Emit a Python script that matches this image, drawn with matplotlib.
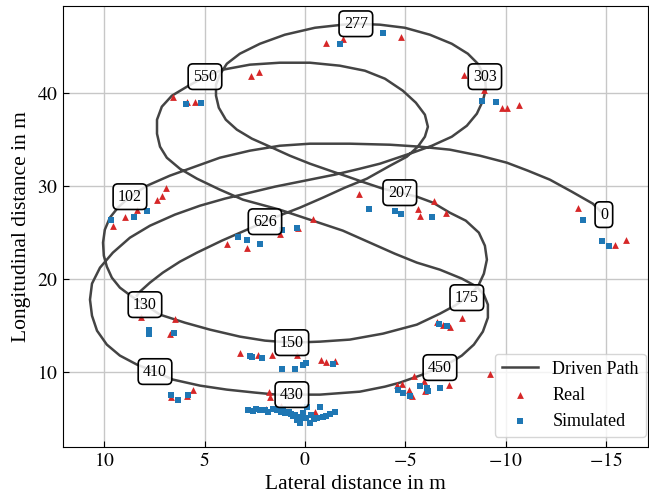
import matplotlib
matplotlib.use("Agg")
import matplotlib.pyplot as plt
from matplotlib.ticker import StrMethodFormatter

plt.rcParams["font.family"] = ["Liberation Serif", "DejaVu Serif"]
plt.rcParams["mathtext.fontset"] = "stix"

# driven path (lateral, longitudinal) in m
path_x = [
    -14.90, -14.35, -13.30, -12.21, -11.11, -10.06, -8.72, -7.22, -5.73, -4.24,
    -2.24, -0.25, 1.25, 2.74, 4.24, 5.48, 6.73, 7.87, 8.72,
    9.32, 9.72, 9.97, 10.06, 10.02, 9.87, 9.62, 9.22, 8.62, 7.97,
    7.22, 5.98, 4.73, 3.24, 1.99, 0.65,
    -0.75, -2.24, -3.89, -5.58, -6.73, -7.47, -8.07,
    -8.62, -8.92, -9.07, -8.97, -8.67, -8.02, -7.22, -6.38, -5.58, -4.73,
    -3.89, -2.99, -2.14, -1.25, -0.25, 0.75, 1.74, 2.64, 3.39, 3.94,
    4.29, 4.43, 4.43, 4.24, 3.89, 3.24, 2.24, 1.00, -0.50, -1.89, -2.54,
    -3.74, -4.98, -6.23, -7.32, -8.12, -8.62, -8.97,
    -9.02, -8.87, -8.57, -8.07, -7.32, -6.33, -5.38, -4.48, -3.74, -2.74,
    -1.49, 0.00, 1.49, 2.74, 3.99, 5.23, 6.48, 7.72, 8.72, 9.57,
    10.21, 10.61, 10.71, 10.61, 10.36, 9.87, 9.22, 8.37, 7.47,
    6.58, 5.23, 3.89, 2.49, 1.40, 0.65,
    -0.75, -2.74, -3.99, -4.73, -5.73, -6.73,
    -7.32, -7.82, -8.42, -8.87, -9.12, -9.12, -8.92, -8.57, -7.82, -6.73,
    -5.58, -4.48, -3.24, -1.89, -0.25, 1.25, 3.09, 4.24, 5.38, 6.23,
    6.88, 7.22, 7.37, 7.37, 7.13, 6.63, 5.88, 4.98,
    4.09, 2.74, 1.25, -0.25, -1.74, -2.99, -3.99, -4.88, -5.53, -5.98,
    -6.13, -5.98, -5.63, -5.08, -4.24, -3.09, -1.99, -0.90, 0.25, 1.15, 1.99,
    2.89, 4.14, 5.38, 6.23, 7.08, 7.72, 8.22, 8.37,
]
path_y = [
    26.96, 28.14, 29.43, 30.72, 31.69, 32.55, 33.30, 33.95, 34.27, 34.48,
    34.59, 34.59, 34.37, 33.84, 33.08, 32.12, 31.15, 30.07, 28.89,
    27.71, 26.63, 25.34, 23.95, 22.55, 21.37, 20.18, 19.11, 18.14, 17.28,
    16.20, 15.34, 14.59, 13.84, 13.41, 13.19,
    13.30, 13.52, 14.16, 15.13, 16.31, 17.17, 18.03,
    19.21, 20.61, 22.12, 23.62, 25.02, 26.31, 27.17, 28.25, 28.89, 29.32,
    29.75, 30.40, 31.04, 31.69, 32.44, 33.30, 34.27, 35.13, 36.10, 37.17,
    38.46, 39.75, 40.94, 42.01, 43.19, 44.27, 45.34, 46.31, 47.06, 47.39, 47.49,
    47.39, 47.06, 46.31, 45.34, 44.27, 43.19, 41.80,
    40.50, 39.21, 37.82, 36.52, 35.34, 34.37, 33.63, 32.98, 32.44, 31.90,
    31.26, 30.61, 29.97, 29.32, 28.68, 27.92, 26.96, 25.77, 24.48, 22.87,
    21.26, 19.54, 17.82, 16.09, 14.48, 12.98, 11.80, 10.83, 10.08,
    9.22, 8.57, 8.14, 7.82, 7.60, 7.60,
    7.60, 7.92, 8.46, 8.89, 9.65, 10.51,
    11.15, 11.80, 12.98, 14.38, 15.88, 17.28, 18.35, 19.21, 20.08, 21.04,
    21.80, 22.76, 23.95, 25.24, 26.42, 27.49, 28.57, 29.65, 30.83, 31.90,
    33.08, 34.27, 35.66, 37.17, 38.57, 39.75, 40.72, 41.80,
    42.55, 43.09, 43.30, 43.30, 42.98, 42.44, 41.58, 40.29, 39.00, 37.71,
    36.41, 35.34, 34.27, 33.19, 32.22, 30.83, 29.86, 28.79, 27.71, 26.96, 26.20,
    25.34, 24.16, 22.87, 21.90, 20.72, 19.65, 18.68, 18.25,
]

# sample indices written along the path
label_text = ["0", "102", "130", "150", "175", "207", "277", "303",
              "410", "430", "450", "550", "626"]
label_x = [-14.90, 8.72, 7.97, 0.65, -8.07, -4.73, -2.54, -8.97,
           7.47, 0.65, -6.73, 4.98, 1.99]
label_y = [26.96, 28.89, 17.28, 13.19, 18.03, 29.32, 47.49, 41.80,
           10.08, 7.60, 10.51, 41.80, 26.20]

# real detections
real_x = [
    -1.05, -1.88, -4.78, 2.69, 2.28, 6.59, 5.88, 5.46, -7.92, -8.93,
    -9.80, -10.05, -10.68, 6.93, 7.11, 7.36, 8.36, 8.96, 9.55, 3.89,
    2.87, 1.25, 0.35, -0.41, -2.69, -5.62, -5.76, -6.44, -7.05, -13.62,
    -15.45, -15.99, 8.19, 6.48, 6.73, 3.24, 2.33, 1.66, 0.41, -0.80,
    -1.03, -1.49, -7.81, -6.56, -6.86, -7.22, 5.57, 5.86, 6.69, 1.78,
    1.72, 1.93, 1.20, -0.50, -5.45, -5.94, -7.19, -4.57, -4.82, -5.20,
    -5.32, -5.98, -9.22,
]
real_y = [
    45.42, 45.85, 46.06, 41.83, 42.28, 39.57, 39.11, 39.11, 42.01, 40.34,
    38.43, 38.48, 38.75, 29.78, 28.92, 28.57, 27.49, 26.67, 25.77, 23.81,
    23.41, 24.86, 25.53, 26.47, 29.22, 27.57, 26.77, 28.39, 27.10, 27.63,
    23.73, 24.19, 15.96, 15.74, 14.16, 12.09, 11.90, 11.90, 11.90, 11.37,
    11.08, 11.18, 15.88, 15.38, 15.13, 14.86, 8.14, 7.42, 7.31, 7.92,
    7.33, 6.10, 6.34, 5.70, 9.57, 9.03, 8.68, 8.68, 8.78, 8.14,
    7.49, 8.03, 9.86,
]

# simulated detections
sim_x = [
    -1.74, -3.90, 5.93, 5.18, -8.85, -9.52, 7.88, 8.50, 9.68, 3.35,
    2.90, 2.22, 1.16, 0.40, -3.20, -4.48, -4.81, -6.34, -13.84, -14.83,
    -15.16, 7.76, 7.76, 6.53, 2.74, 2.66, 2.16, 1.16, 0.50, 0.11,
    -0.08, -1.38, -6.69, -7.09, 6.69, 6.31, 5.81, -5.76, -6.09, -6.14,
    -6.73, -4.65, -4.90, -5.23, 2.84, 2.59, 2.24, 1.99, 1.84, 1.59,
    1.40, 1.20, 1.00, 0.80, 0.70, 0.60, 0.50, 0.40, 0.25, 0.25,
    0.10, -0.05, -0.10, -0.25, -0.30, -0.45, -0.60, -0.75, -0.90, -1.05,
    -1.25, -1.49, 2.44, 1.10,
]
sim_y = [
    45.34, 46.49, 38.86, 38.97, 39.14, 39.03, 27.33, 26.72, 26.34, 24.54,
    24.19, 23.78, 25.34, 25.53, 27.60, 27.31, 27.06, 26.71, 26.42, 24.11,
    23.62, 14.52, 14.16, 14.24, 11.72, 11.66, 11.55, 10.37, 10.37, 10.83,
    11.01, 10.94, 15.24, 14.95, 7.53, 7.03, 7.60, 8.57, 8.32, 7.96,
    8.32, 8.14, 7.78, 7.49, 5.99, 5.88, 5.99, 5.94, 5.77, 6.04,
    5.94, 5.77, 5.63, 5.77, 5.51, 5.29, 5.45, 4.91, 5.24, 4.59,
    5.67, 5.13, 6.31, 4.59, 5.45, 5.02, 5.13, 6.31, 5.24, 5.34,
    5.56, 5.77, 6.10, 6.10,
]

fig = plt.figure(figsize=(6.49, 5.0), dpi=100)
ax = fig.add_axes([0.0966, 0.1066, 0.9019, 0.8814])

ax.plot(path_x, path_y, color="#444444", lw=1.8, label="Driven Path", zorder=2)
ax.scatter(real_x, real_y, marker="^", s=24, color="#d62728", linewidths=0,
           label="Real", zorder=3)
ax.scatter(sim_x, sim_y, marker="s", s=20, color="#1f77b4", linewidths=0,
           label="Simulated", zorder=3)

for text, x, y in zip(label_text, label_x, label_y):
    ax.text(x, y, text, ha="center", va="center", fontsize=11.5, zorder=5,
            bbox=dict(boxstyle="round,pad=0.3", fc=(1, 1, 1, 0.85),
                      ec="black", lw=1.2))

ax.set_xlim(12.07, -17.1)
ax.set_ylim(2.0, 49.4)
ax.set_xticks([10, 5, 0, -5, -10, -15])
ax.set_yticks([10, 20, 30, 40])
ax.xaxis.set_major_formatter(StrMethodFormatter("${x:g}$"))
ax.yaxis.set_major_formatter(StrMethodFormatter("${x:g}$"))
ax.grid(True, color="0.78", lw=1.0, zorder=0)
ax.set_axisbelow(True)
ax.tick_params(direction="in", labelsize=14, length=4)
ax.set_xlabel("Lateral distance in m", fontsize=15.5)
ax.set_ylabel("Longitudinal distance in m", fontsize=15.5)
ax.legend(loc="lower right", fontsize=13, bbox_to_anchor=(0.9966, 0.022),
          borderaxespad=0)

fig.savefig("out.png", dpi=100)
